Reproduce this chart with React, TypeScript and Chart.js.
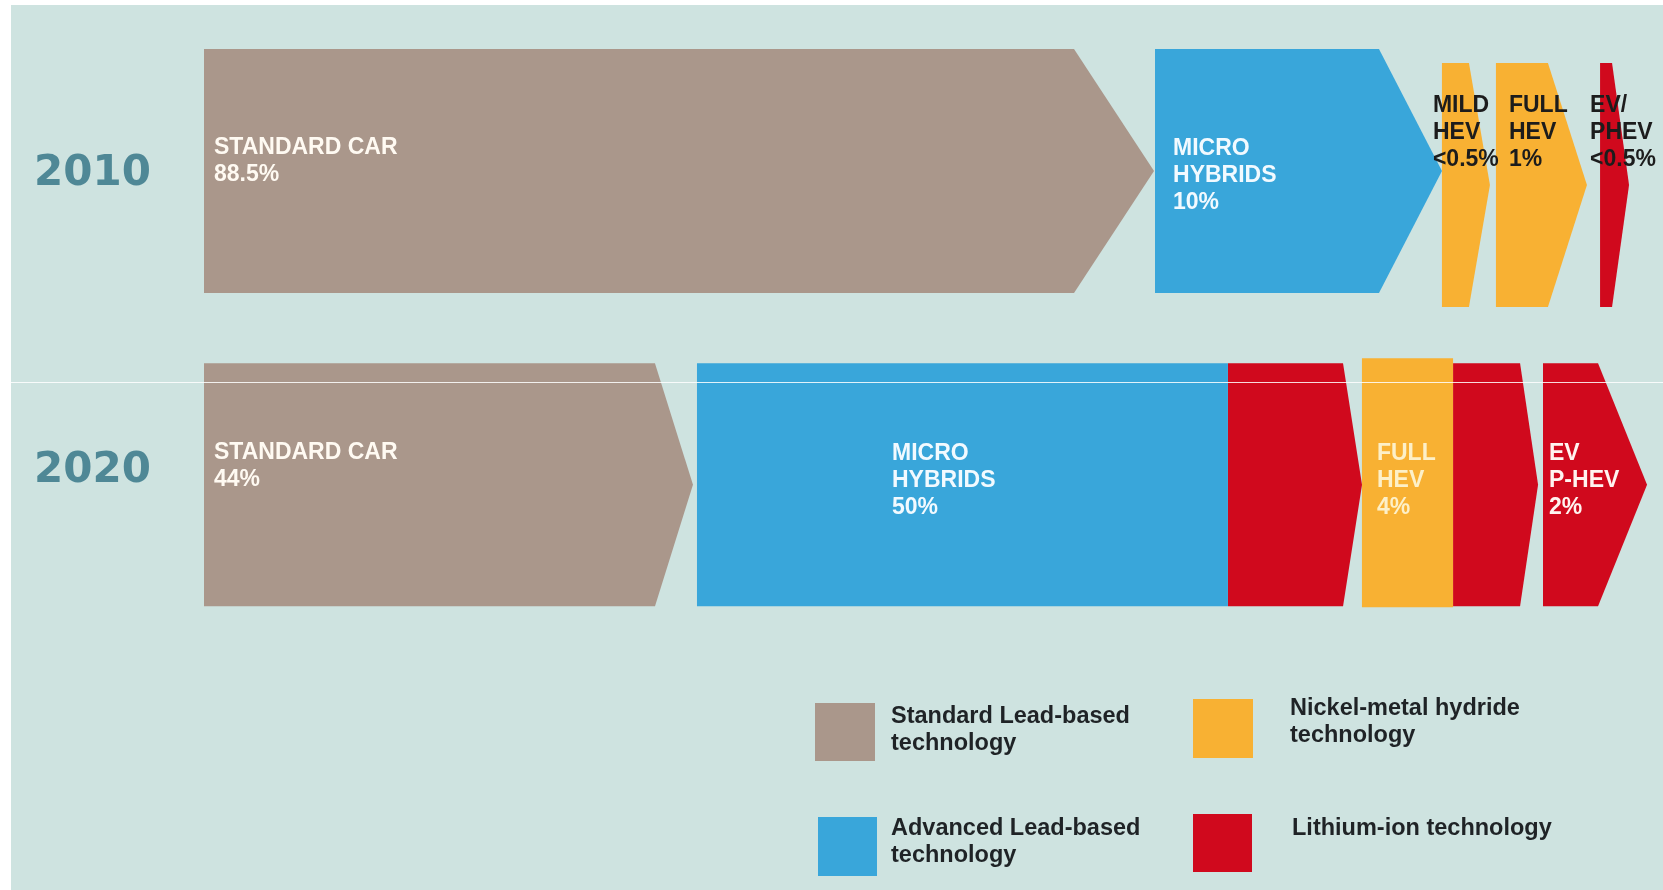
import React, { useEffect, useRef } from 'react';
import { Chart, registerables } from 'chart.js';

Chart.register(...registerables);

// ---------- data ----------
const years = ['2010', '2020'];
// one entry per segment (arrow)
const segYear = [0, 0, 0, 0, 0, 1, 1, 1, 1, 1, 1];
const segTech = [0, 1, 2, 2, 3, 0, 1, 3, 2, 3, 3];
// extents along the row, in share of the row width (0..100)
const segStart = [0, 65.86, 85.73, 89.47, 96.68, 0, 34.14, 70.91, 80.19, 86.5, 92.73];
const segEnd = [60.25, 81.37, 87.6, 93.07, 97.51, 31.23, 70.91, 78.88, 86.5, 91.14, 96.54];
const segText: string[][] = [
  ['STANDARD CAR', '88.5%'],
  ['MICRO', 'HYBRIDS', '10%'],
  ['MILD', 'HEV', '<0.5%'],
  ['FULL', 'HEV', '1%'],
  ['EV/', 'PHEV', '<0.5%'],
  ['STANDARD CAR', '44%'],
  ['MICRO', 'HYBRIDS', '50%'],
  [],
  ['FULL', 'HEV', '4%'],
  [],
  ['EV', 'P-HEV', '2%'],
];
const techNames = [
  'Standard Lead-based\ntechnology',
  'Advanced Lead-based\ntechnology',
  'Nickel-metal hydride\ntechnology',
  'Lithium-ion technology',
];

// ---------- styles / layout ----------
const W = 1663;
const H = 890;
const BG = '#cee3e0';
const YEAR_COLOR = '#4f8896';
const techColors = ['#aa978b', '#39a6da', '#f8b133', '#d0091d'];
const arrowDepth = [80, 63, 21, 39, 17, 38, 0, 19, 0, 18, 49];
const segShiftY = [-3, -3, 11, 11, 11, 13.5, 13.5, 13.5, 11.5, 13.5, 13.5];
const segThickness = [244, 244, 244, 244, 244, 243, 243, 243, 249, 243, 243];
const labelDx = [10, 18, -9, 13, -10, 10, 195, 0, 15, 0, 6];
const labelTop = [-26, -25, -68, -68, -68, -19, -18, 0, -18, 0, -18];
const labelGap = 27;
const labelColors = ['#fffaf2', '#f2faff', '#1c1c1c', '#1c1c1c', '#1c1c1c', '#fffaf2', '#f2faff', '', '#fdf0c8', '', '#fff4f0'];
const LABEL_FONT = 'bold 23px "Liberation Sans", Arial, sans-serif';

// legend layout: swatch box and text position (px)
const legendBox = [
  { x: 815, y: 703, w: 60, h: 58, tx: 891, ty: 702 },
  { x: 818, y: 817, w: 59, h: 59, tx: 891, ty: 814 },
  { x: 1193, y: 699, w: 60, h: 59, tx: 1290, ty: 694 },
  { x: 1193, y: 814, w: 59, h: 58, tx: 1292, ty: 814 },
];

const shapesPlugin = {
  id: 'shapes',
  beforeDraw(chart: any) {
    const ctx = chart.ctx;
    ctx.save();
    ctx.fillStyle = '#ffffff';
    ctx.fillRect(0, 0, chart.width, chart.height);
    ctx.fillStyle = BG;
    ctx.fillRect(11, 5, chart.width - 11, chart.height - 5);
    ctx.restore();
  },
  beforeDatasetDraw(chart: any, args: any) {
    const k = args.index;
    const ctx = chart.ctx;
    const meta = args.meta;
    const ds = chart.data.datasets[k];
    ctx.save();
    meta.data.forEach((el: any, i: number) => {
      if (ds.data[i] == null) return;
      const p = el.getProps(['x', 'base', 'y'], true);
      const left = Math.min(p.x, p.base);
      const right = Math.max(p.x, p.base);
      const cy = p.y + segShiftY[k];
      const half = segThickness[k] / 2;
      ctx.beginPath();
      ctx.moveTo(left, cy - half);
      ctx.lineTo(right, cy - half);
      ctx.lineTo(right + arrowDepth[k], cy);
      ctx.lineTo(right, cy + half);
      ctx.lineTo(left, cy + half);
      ctx.closePath();
      ctx.fillStyle = techColors[segTech[k]];
      ctx.fill();
    });
    ctx.restore();
    return false;
  },
  afterDatasetsDraw(chart: any) {
    const ctx = chart.ctx;
    ctx.save();
    // faint white scan line present in the source image
    ctx.strokeStyle = 'rgba(255,255,255,0.85)';
    ctx.lineWidth = 1;
    ctx.beginPath();
    ctx.moveTo(11, 382.5);
    ctx.lineTo(chart.width, 382.5);
    ctx.stroke();

    ctx.font = LABEL_FONT;
    ctx.textBaseline = 'middle';
    ctx.textAlign = 'left';
    chart.data.datasets.forEach((ds: any, k: number) => {
      const lines = segText[k];
      if (!lines.length) return;
      const meta = chart.getDatasetMeta(k);
      const el = meta.data[segYear[k]];
      if (!el) return;
      const p = el.getProps(['x', 'base', 'y'], true);
      const left = Math.min(p.x, p.base);
      ctx.fillStyle = labelColors[k];
      lines.forEach((t: string, j: number) => {
        ctx.fillText(t, left + labelDx[k], p.y + labelTop[k] + j * labelGap);
      });
    });
    ctx.restore();
  },
};

function ChartCanvas() {
  const ref = useRef<HTMLCanvasElement | null>(null);
  useEffect(() => {
    if (!ref.current) return;
    const datasets = segStart.map((s, k) => ({
      label: segText[k].join(' '),
      data: years.map((_, i) => (i === segYear[k] ? [s, segEnd[k]] : null)),
      backgroundColor: techColors[segTech[k]],
      grouped: false,
      borderWidth: 0,
    }));
    const chart = new Chart(ref.current, {
      type: 'bar',
      data: { labels: years, datasets: datasets as any },
      options: {
        indexAxis: 'y',
        animation: false,
        responsive: false,
        maintainAspectRatio: false,
        events: [],
        layout: { padding: { left: 34, right: 15, top: 20, bottom: 270 } },
        plugins: { legend: { display: false }, tooltip: { enabled: false }, title: { display: false } },
        scales: {
          x: { type: 'linear', min: 0, max: 100, display: false },
          y: {
            type: 'category',
            offset: true,
            grid: { display: false },
            border: { display: false },
            ticks: {
              crossAlign: 'far',
              padding: 0,
              color: YEAR_COLOR,
              font: { family: '"DejaVu Sans", sans-serif', weight: 'bold', size: 42 },
            },
            afterFit: (scale: any) => {
              scale.width = 170;
            },
          },
        },
      } as any,
      plugins: [shapesPlugin as any],
    });
    return () => chart.destroy();
  }, []);
  return <canvas ref={ref} width={W} height={H} style={{ position: 'absolute', left: 0, top: 0, width: W, height: H }} />;
}

export default function App() {
  return (
    <div style={{ position: 'absolute', left: 0, top: 0, width: W, height: H, overflow: 'hidden', background: '#fff' }}>
      <ChartCanvas />
      {techNames.map((name, i) => {
        const b = legendBox[i];
        return (
          <React.Fragment key={name}>
            <div
              style={{
                position: 'absolute',
                left: b.x,
                top: b.y,
                width: b.w,
                height: b.h,
                background: techColors[i],
              }}
            />
            <div
              style={{
                position: 'absolute',
                left: b.tx,
                top: b.ty,
                whiteSpace: 'pre-line',
                fontFamily: '"Liberation Sans", Arial, sans-serif',
                fontWeight: 'bold',
                fontSize: 23.5,
                lineHeight: '26.5px',
                color: '#1f2326',
              }}
            >
              {name}
            </div>
          </React.Fragment>
        );
      })}
    </div>
  );
}
